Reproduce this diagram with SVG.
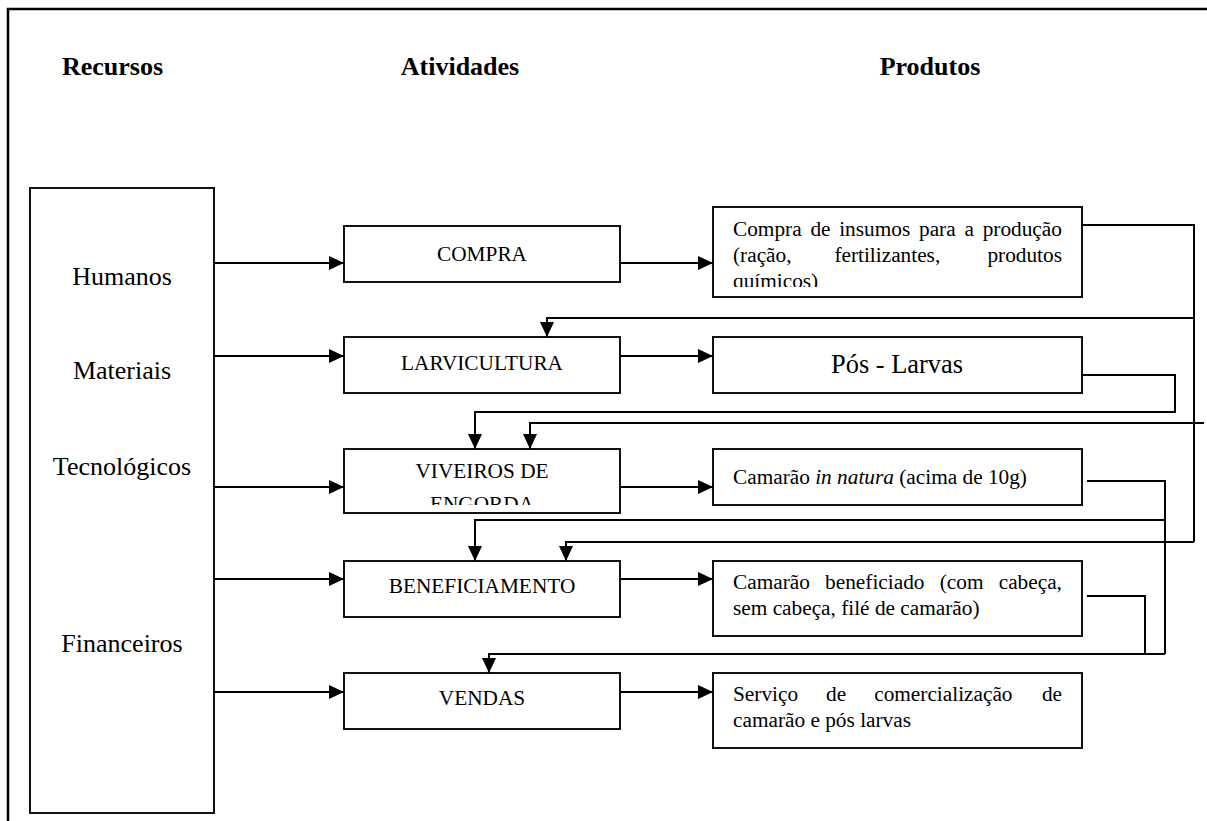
<svg xmlns="http://www.w3.org/2000/svg" width="1207" height="821" viewBox="0 0 1207 821">
  <style>
    .box { fill: #fff; stroke: #111; stroke-width: 2; }
    .frame { fill: none; stroke: #000; stroke-width: 2.5; }
    .wire { fill: none; stroke: #000; stroke-width: 2; }
    .head { font-family: "Liberation Serif", "Times New Roman", serif; font-weight: bold; font-size: 26px; fill: #000; }
    .res { font-family: "Liberation Serif", "Times New Roman", serif; font-size: 26px; fill: #000; text-anchor: middle; }
    .act { font-family: "Liberation Serif", "Times New Roman", serif; font-size: 21.3px; fill: #000; text-anchor: middle; }
    .prod { font-family: "Liberation Serif", "Times New Roman", serif; font-size: 21.3px; fill: #000; }
    .big { font-family: "Liberation Serif", "Times New Roman", serif; font-size: 26.4px; fill: #000; text-anchor: middle; }
  </style>
  <defs>
    <marker id="arrow" viewBox="0 0 15 14" refX="15" refY="7" markerWidth="15" markerHeight="14" markerUnits="userSpaceOnUse" orient="auto">
      <path d="M0,0 L15,7 L0,14 z" fill="#000"/>
    </marker>
    <clipPath id="clip-viveiros"><rect x="344" y="449" width="276" height="56"/></clipPath>
    <clipPath id="clip-insumos"><rect x="713" y="207" width="369" height="80"/></clipPath>
  </defs>

  <rect width="1207" height="821" fill="#fff"/>
  <!-- outer frame (continues past the right and bottom edges) -->
  <rect class="frame" x="8" y="9" width="1215" height="830"/>

  <!-- column headings -->
  <g id="headings">
    <text class="head" x="62" y="75">Recursos</text>
    <text class="head" x="460" y="75" text-anchor="middle">Atividades</text>
    <text class="head" x="930" y="75" text-anchor="middle">Produtos</text>
  </g>

  <!-- resources -->
  <g id="recursos">
    <rect class="box" x="30" y="188" width="184" height="625"/>
    <text class="res" x="122" y="285">Humanos</text>
    <text class="res" x="122" y="379">Materiais</text>
    <text class="res" x="122" y="475">Tecnológicos</text>
    <text class="res" x="122" y="652">Financeiros</text>
  </g>

  <!-- activities -->
  <g id="compra">
    <rect class="box" x="344" y="226" width="276" height="56"/>
    <text class="act" x="482" y="261">COMPRA</text>
  </g>
  <g id="larvicultura">
    <rect class="box" x="344" y="337" width="276" height="56"/>
    <text class="act" x="482" y="370">LARVICULTURA</text>
  </g>
  <g id="viveiros">
    <rect class="box" x="344" y="449" width="276" height="64"/>
    <g clip-path="url(#clip-viveiros)">
      <text class="act" x="482" y="478">VIVEIROS DE</text>
      <text class="act" x="482" y="511">ENGORDA</text>
    </g>
  </g>
  <g id="beneficiamento">
    <rect class="box" x="344" y="561" width="276" height="56"/>
    <text class="act" x="482" y="593">BENEFICIAMENTO</text>
  </g>
  <g id="vendas">
    <rect class="box" x="344" y="673" width="276" height="56"/>
    <text class="act" x="482" y="705">VENDAS</text>
  </g>

  <!-- products -->
  <g id="insumos">
    <rect class="box" x="713" y="207" width="369" height="90"/>
    <g clip-path="url(#clip-insumos)">
      <text class="prod" y="236"><tspan x="733">Compra</tspan><tspan x="810.4">de</tspan><tspan x="839.2">insumos</tspan><tspan x="919">para</tspan><tspan x="964.4">a</tspan><tspan x="982.7">produção</tspan></text>
      <text class="prod" y="262"><tspan x="733">(ração,</tspan><tspan x="834.4">fertilizantes,</tspan><tspan x="987.4">produtos</tspan></text>
      <text class="prod" x="733" y="288">químicos)</text>
    </g>
  </g>
  <g id="pos-larvas">
    <rect class="box" x="713" y="337" width="369" height="56"/>
    <text class="big" x="897" y="373">Pós - Larvas</text>
  </g>
  <g id="in-natura">
    <rect class="box" x="713" y="449" width="369" height="56"/>
    <text class="prod" x="733" y="484">Camarão <tspan font-style="italic">in natura</tspan> (acima de 10g)</text>
  </g>
  <g id="beneficiado">
    <rect class="box" x="713" y="561" width="369" height="75"/>
    <text class="prod" y="589"><tspan x="733">Camarão</tspan><tspan x="825.1">beneficiado</tspan><tspan x="939.7">(com</tspan><tspan x="998.7">cabeça,</tspan></text>
    <text class="prod" x="733" y="615">sem cabeça, filé de camarão)</text>
  </g>
  <g id="servico">
    <rect class="box" x="713" y="673" width="369" height="75"/>
    <text class="prod" y="701"><tspan x="733">Serviço</tspan><tspan x="826.1">de</tspan><tspan x="874.2">comercialização</tspan><tspan x="1041.9">de</tspan></text>
    <text class="prod" x="733" y="727">camarão e pós larvas</text>
  </g>

  <!-- connectors -->
  <g id="connectors">
    <!-- resources to activities -->
    <line class="wire" x1="214" y1="263" x2="344" y2="263" marker-end="url(#arrow)"/>
    <line class="wire" x1="214" y1="356" x2="344" y2="356" marker-end="url(#arrow)"/>
    <line class="wire" x1="214" y1="487" x2="344" y2="487" marker-end="url(#arrow)"/>
    <line class="wire" x1="214" y1="579" x2="344" y2="579" marker-end="url(#arrow)"/>
    <line class="wire" x1="214" y1="692" x2="344" y2="692" marker-end="url(#arrow)"/>
    <!-- activities to products -->
    <line class="wire" x1="620" y1="263" x2="713" y2="263" marker-end="url(#arrow)"/>
    <line class="wire" x1="620" y1="356" x2="713" y2="356" marker-end="url(#arrow)"/>
    <line class="wire" x1="620" y1="487" x2="713" y2="487" marker-end="url(#arrow)"/>
    <line class="wire" x1="620" y1="579" x2="713" y2="579" marker-end="url(#arrow)"/>
    <line class="wire" x1="620" y1="692" x2="713" y2="692" marker-end="url(#arrow)"/>
    <!-- feedback loops -->
    <polyline class="wire" points="1082,225 1194,225 1194,542"/>
    <polyline class="wire" points="1194,318 547,318 547,337" marker-end="url(#arrow)"/>
    <polyline class="wire" points="1194,542 566,542 566,561" marker-end="url(#arrow)"/>
    <polyline class="wire" points="1082,375 1175,375 1175,412 475,412 475,449" marker-end="url(#arrow)"/>
    <polyline class="wire" points="1204,423 530,423 530,449" marker-end="url(#arrow)"/>
    <polyline class="wire" points="1087,481 1165,481 1165,654"/>
    <polyline class="wire" points="1165,520 475,520 475,561" marker-end="url(#arrow)"/>
    <polyline class="wire" points="1087,596 1145,596 1145,654"/>
    <polyline class="wire" points="1165,654 489,654 489,673" marker-end="url(#arrow)"/>
  </g>
</svg>
